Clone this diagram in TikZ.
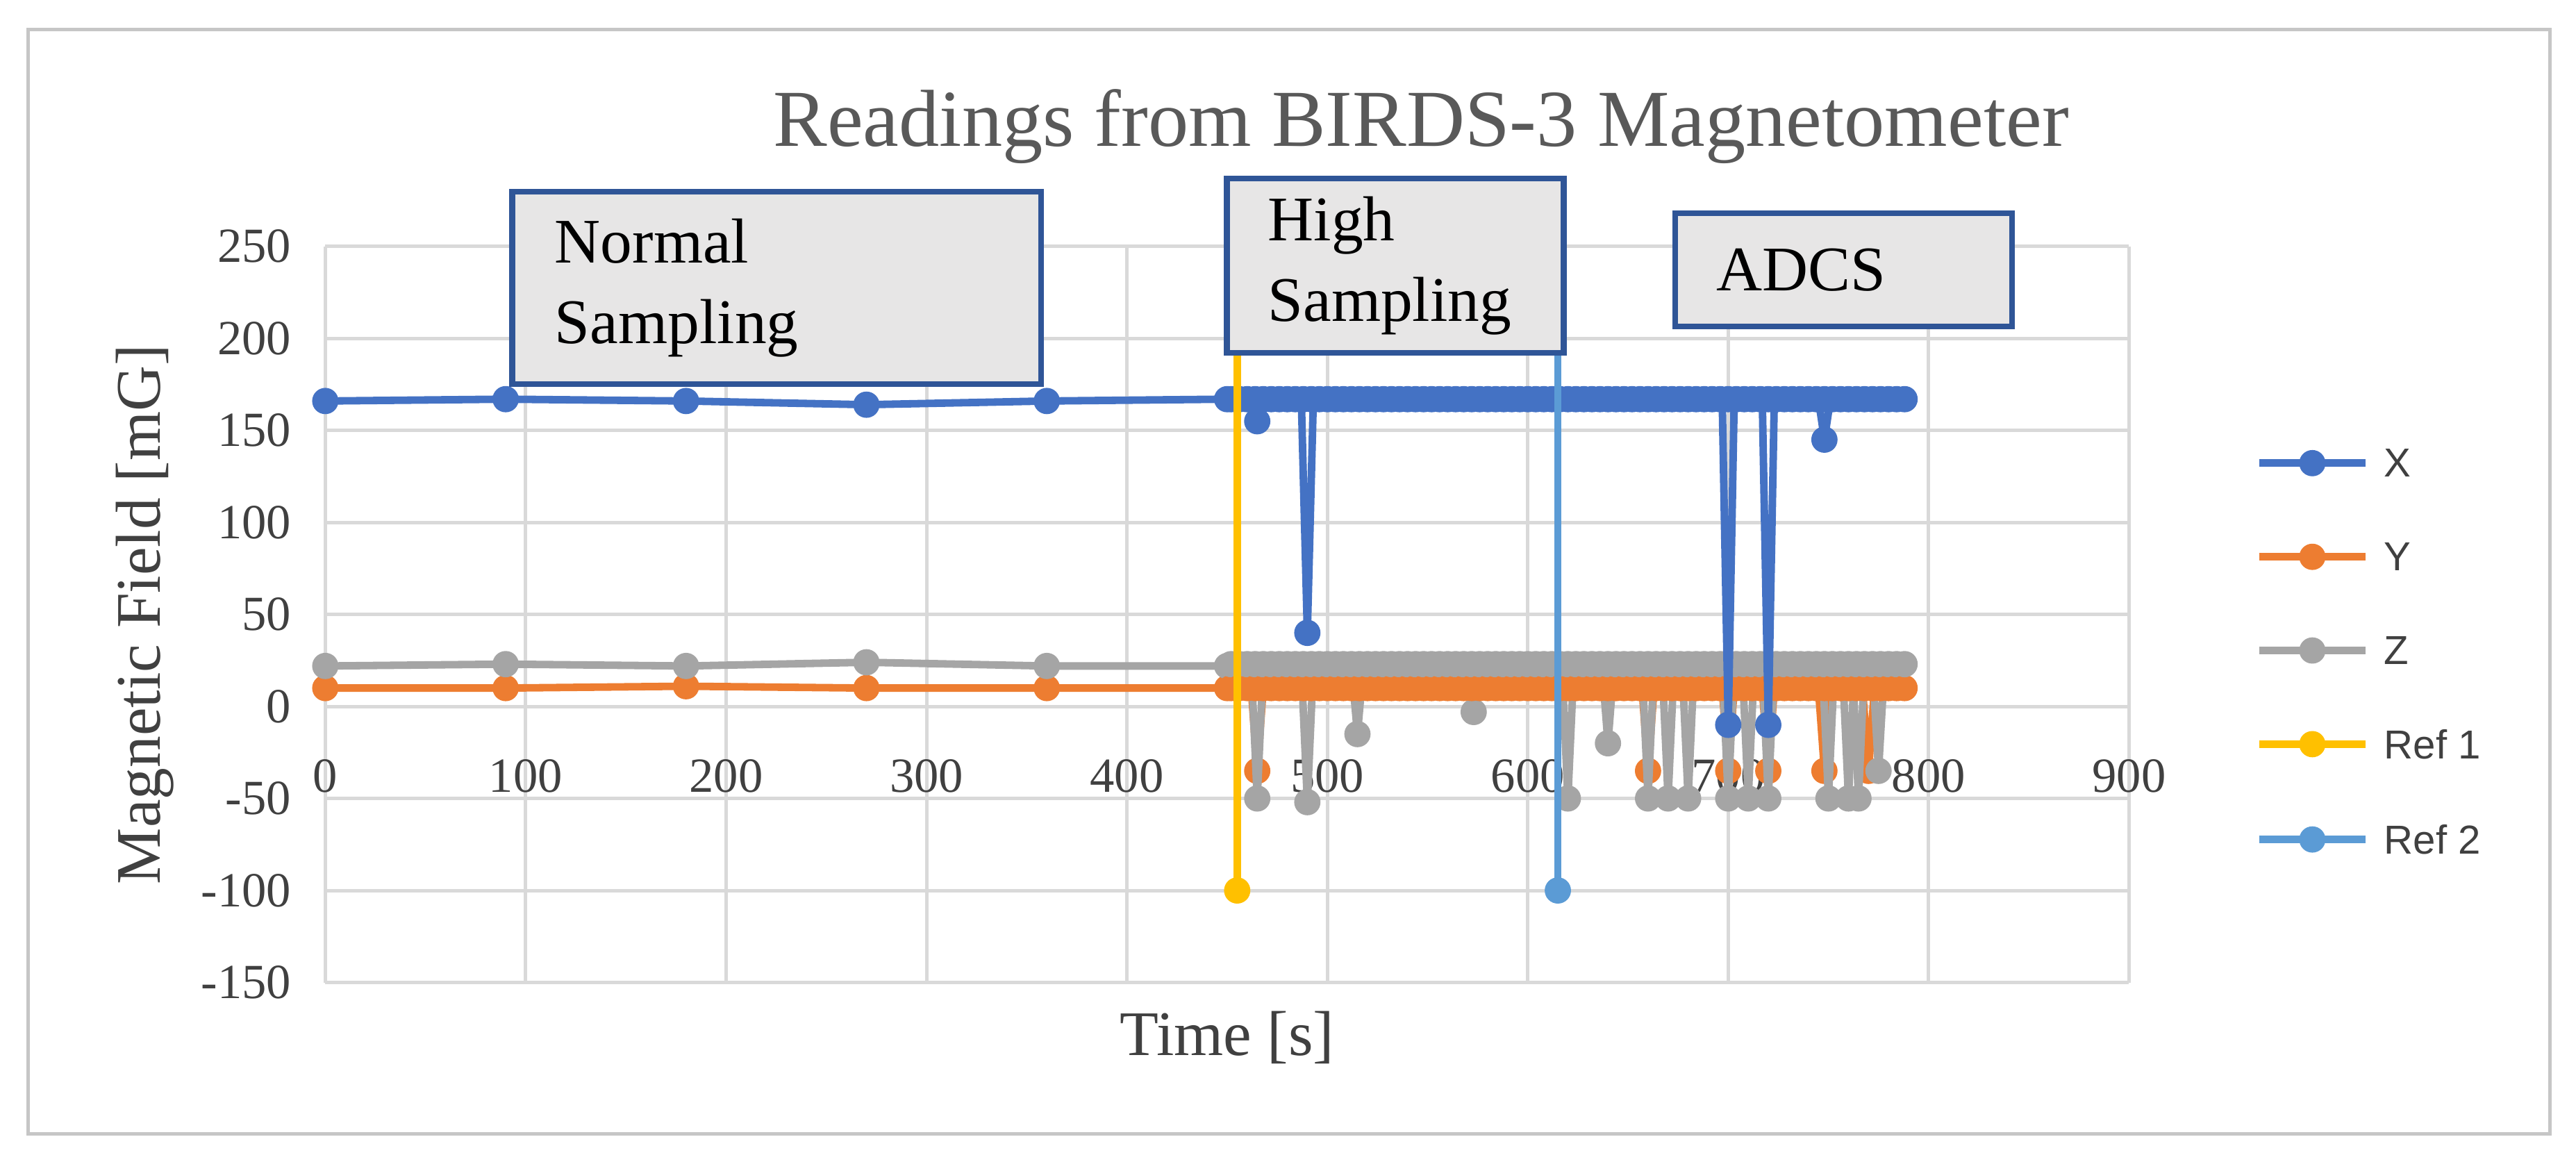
\documentclass[tikz,border=0pt]{standalone}
\usepackage{fontspec}
\setmainfont{Liberation Serif}
\newfontfamily\legendfont{Liberation Sans}
\newfontfamily\serifdigits{Liberation Serif}
\usetikzlibrary{calc}
\definecolor{serX}{HTML}{4472C4}
\definecolor{serY}{HTML}{ED7D31}
\definecolor{serZ}{HTML}{A5A5A5}
\definecolor{refA}{HTML}{FFC000}
\definecolor{refB}{HTML}{5B9BD5}
\definecolor{boxFill}{HTML}{E7E6E6}
\definecolor{boxLine}{HTML}{2F5597}
\tikzset{Grid Line/.style = {line width = 1.2pt, gray!30}}
\tikzset{Series/.style = {line width = 2.6pt, line join = round}}
\tikzset{Mark/.style = {fill = #1, draw = none}}
\tikzset{Note Box/.style = {draw = boxLine, line width = 2pt, fill = boxFill, inner xsep = 0.5cm}}
\tikzset{Tick Label/.style = {font = \serifdigits\fontsize{17}{20}\selectfont, text = black!75}}

\begin{document}
\begin{tikzpicture}
  \useasboundingbox (0, 0) rectangle (31.36, 14.14);
  \draw [gray!45, line width = 1.2pt] (0.34, 0.34) rectangle (31.04, 13.78);

  \node[font = \fontsize{28}{34}\selectfont, text = black!65] (title) at (17.3, 12.6)
  {Readings from BIRDS-3 Magnetometer};

  \begin{scope}[shift = {(3.96, 5.54)}, x = 0.0244cm, y = 0.0224cm]
    \foreach \t in {0, 100, ..., 900}
      \draw [Grid Line] (\t, -150) -- (\t, 250);
    \foreach \v in {-150, -100, ..., 250}
      {\draw [Grid Line] (0, \v) -- (900, \v);
       \node [Tick Label, anchor = east] at (-12, \v) {\v};}
    \foreach \t in {0, 100, ..., 900}
      \node [Tick Label] at (\t, -38) {\t};

    \node [font = \fontsize{22}{26}\selectfont, text = black!75, rotate = 90] (ylab)
    at (-90, 50) {Magnetic Field [mG]};
    \node [font = \fontsize{22}{26}\selectfont, text = black!75] (xlab)
    at (450, -180) {Time [s]};

    % sparse part
    \draw [Series, serY] (0, 10) -- (90, 10) -- (180, 11) -- (270, 10) -- (360, 10) -- (450, 10) -- (790, 10);
    \draw [Series, serZ] (0, 22) -- (90, 23) -- (180, 22) -- (270, 24) -- (360, 22) -- (450, 22) -- (790, 23);
    \draw [Series, serX] (0, 166) -- (90, 167) -- (180, 166) -- (270, 164) -- (360, 166) -- (450, 167) -- (790, 166);

    \foreach \t/\y/\z/\x in {0/10/22/166, 90/10/23/167, 180/11/22/166, 270/10/24/164, 360/10/22/166, 450/10/22/167}
      {\fill [Mark = serY] (\t, \y) circle (0.16cm);
       \fill [Mark = serZ] (\t, \z) circle (0.16cm);
       \fill [Mark = serX] (\t, \x) circle (0.16cm);}

    % dense part
    \foreach \t/\d in {465/-35, 660/-35, 700/-35, 720/-35, 748/-35, 770/-35}
      {\draw [Series, serY] (\t-3, 10) -- (\t, \d) -- (\t+3, 10);
       \fill [Mark = serY] (\t, \d) circle (0.16cm);}
    \foreach \t/\d in {465/-50, 490/-52, 515/-15, 573/-3, 620/-50, 640/-20, 660/-50, 670/-50,
      680/-50, 700/-50, 710/-50, 720/-50, 750/-50, 760/-50, 765/-50, 775/-35}
      {\draw [Series, serZ] (\t-3, 22) -- (\t, \d) -- (\t+3, 22);
       \fill [Mark = serZ] (\t, \d) circle (0.16cm);}
    \foreach \t in {452, 456, ..., 790}
      {\fill [Mark = serY] (\t, 10) circle (0.16cm);
       \fill [Mark = serZ] (\t, 23) circle (0.16cm);}
    \foreach \t/\d in {465/155, 490/40, 700/-10, 720/-10, 748/145}
      {\draw [Series, serX] (\t-3, 167) -- (\t, \d) -- (\t+3, 167);
       \fill [Mark = serX] (\t, \d) circle (0.16cm);}
    \foreach \t in {452, 456, ..., 790}
      \fill [Mark = serX] (\t, 167) circle (0.16cm);

    % reference lines
    \draw [Series, refA] (455, -100) coordinate (R1) -- (455, 193);
    \fill [Mark = refA] (R1) circle (0.16cm);
    \draw [Series, refB] (615, -100) coordinate (R2) -- (615, 193);
    \fill [Mark = refB] (R2) circle (0.16cm);
  \end{scope}

  % annotation boxes
  \node [Note Box, minimum width = 6.44cm, minimum height = 2.34cm, anchor = north west,
  align = left, font = \fontsize{22}{28}\selectfont, text width = 5.4cm] (normal) at (6.2, 11.84)
  {Normal\\Sampling};
  \node [Note Box, minimum width = 4.1cm, minimum height = 2.12cm, anchor = north west,
  inner xsep = 0.5cm, align = left, font = \fontsize{22}{28}\selectfont, text width = 3.1cm] (high) at (14.9, 12)
  {High\\Sampling};
  \node [Note Box, minimum width = 4.08cm, minimum height = 1.38cm, anchor = north west,
  align = left, font = \fontsize{22}{28}\selectfont, text width = 3.1cm] (adcs) at (20.36, 11.58)
  {ADCS};

  % legend
  \foreach \lab/\col/\py in {X/serX/282, Y/serY/339, Z/serZ/396, Ref 1/refA/453, Ref 2/refB/511}
    {\draw [Series, \col] (27.5, {(707-\py)*0.02}) -- (28.8, {(707-\py)*0.02});
     \fill [Mark = \col] (28.15, {(707-\py)*0.02}) circle (0.16cm);
     \node [anchor = west, font = \legendfont\fontsize{14}{16}\selectfont, text = black!75]
     at (28.9, {(707-\py)*0.02}) {\lab};}
\end{tikzpicture}
\end{document}
